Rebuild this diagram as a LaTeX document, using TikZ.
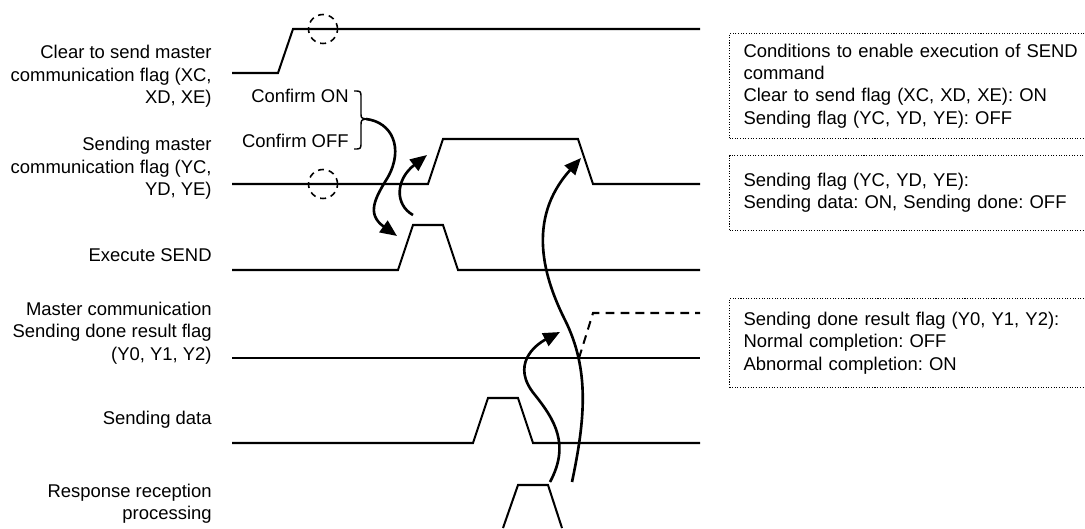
\documentclass[tikz,border=0pt]{standalone}
\usepackage{fontspec}
\setmainfont{Liberation Sans}
\usepackage{xcolor}
\usepackage{tikz}
\usetikzlibrary{positioning,arrows.meta,calc}
\frenchspacing
\definecolor{mInk}{HTML}{000000}
\newcommand{\siglabel}[3]{%
 \node[anchor=east, align=right, inner sep=0pt, text=mInk] (#2) at (212,#1) {#3};}
\newcommand{\notebox}[4]{%
 \node[draw=mInk, line width=0.6pt, dash pattern=on 0.6pt off 0.9pt, text width=7.5cm, inner xsep=0.28cm, minimum height=#3, align=left, text=mInk, anchor=north west] (#2) at (729,#1) {#4};}
\tikzset{
 wave/.style={draw=mInk, line width=1.15pt, line join=miter},
 ring/.style={circle, draw=mInk, line width=0.9pt, dash pattern=on 3.4pt off 2.8pt, minimum size=0.58cm, inner sep=0pt},
 flow/.style={draw=mInk, line width=1.5pt, -{Triangle[length=9.5pt,width=8pt]}}
}

\begin{document}
\begin{tikzpicture}[x=0.02cm, y=-0.02cm, font=\fontsize{10.5}{12.7}\selectfont]
\useasboundingbox (0,0) rectangle (1085,528);
% signal names
\siglabel{76.5}{cts}{Clear to send master\\communication flag (XC,\\XD, XE)}
\siglabel{168.5}{sndf}{Sending master\\communication flag (YC,\\YD, YE)}
\siglabel{255}{exe}{Execute SEND}
\siglabel{333}{res}{Master communication\\Sending done result flag\\(Y0, Y1, Y2)}
\siglabel{419.5}{sdat}{Sending data}
\siglabel{503.5}{resp}{Response reception\\processing}
% waveforms
\draw[wave] (232,73) -- (278,73) -- (293,29) -- (700,29);
\draw[wave] (232,184) -- (428,184) -- (443,139) -- (578,139) -- (593,184) -- (700,184);
\draw[wave] (232,270) -- (398,270) -- (413,225) -- (443,225) -- (458,270) -- (700,270);
\draw[wave] (232,358) -- (700,358);
\draw[wave, dash pattern=on 5pt off 3.5pt] (579,358) -- (593,313) -- (700,313);
\draw[wave] (232,443) -- (473,443) -- (488,398) -- (518,398) -- (533,443) -- (700,443);
\draw[wave] (503,528) -- (518,485) -- (548,485) -- (562,528);
% check points
\node[ring] (chk1) at (323,29) {};
\node[ring] (chk2) at (323,184) {};
\node[anchor=east, inner sep=0pt] (con) at (349,96) {Confirm ON};
\node[below=0.9cm of con.east, anchor=east, inner sep=0pt] (coff) {Confirm OFF};
\coordinate (bt) at (366,119);
\draw[mInk, line width=0.8pt] (354,91) .. controls (361,91) .. (361,98) -- (361,113) .. controls (361,118) .. (bt) .. controls (361,120) .. (361,126) -- (361,142) .. controls (361,149) .. (354,149);
% flow arrows
\coordinate (a1) at (397,236);
\coordinate (b0) at (413,215);
\coordinate (b1) at (427,155);
\coordinate (c0) at (550,482);
\coordinate (c1) at (560,332);
\coordinate (d0) at (572,482);
\coordinate (d1) at (581,158);
\draw[flow] (bt) .. controls (392,122) and (404,148) .. (388,177) .. controls (375,198) and (366,214) .. (a1);
\draw[flow] (b0) .. controls (395,205) and (395,180) .. (b1);
\draw[flow] (c0) .. controls (570,445) and (555,420) .. (535,395) .. controls (510,365) and (535,345) .. (c1);
\draw[flow] (d0) .. controls (585,420) and (590,370) .. (565,320) .. controls (545,280) and (525,220) .. (d1);
% notes
\notebox{33}{cond}{2.1cm}{Conditions to enable execution of SEND\\command\\Clear to send flag (XC, XD, XE): ON\\Sending flag (YC, YD, YE): OFF}
\notebox{155}{sflag}{1.5cm}{Sending flag (YC, YD, YE):\\Sending data: ON, Sending done: OFF}
\notebox{298}{dflag}{1.78cm}{Sending done result flag (Y0, Y1, Y2):\\Normal completion: OFF\\Abnormal completion: ON}
\end{tikzpicture}
\end{document}
